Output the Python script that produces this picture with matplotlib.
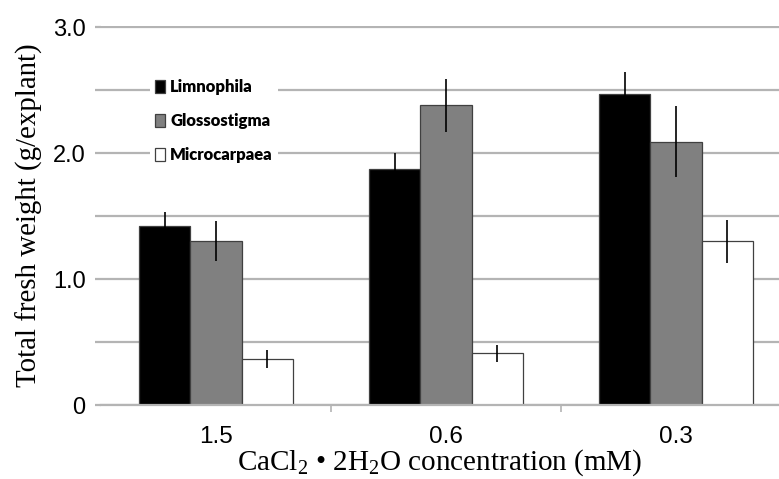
import matplotlib
matplotlib.use("Agg")
import matplotlib.pyplot as plt
import numpy as np
from matplotlib.ticker import FixedLocator

plt.rcParams["mathtext.fontset"] = "custom"
plt.rcParams["mathtext.rm"] = "Liberation Serif"
plt.rcParams["mathtext.it"] = "Liberation Serif"
plt.rcParams["mathtext.default"] = "regular"

categories = ["1.5", "0.6", "0.3"]
series = ["Limnophila", "Glossostigma", "Microcarpaea"]
limnophila = [1.42, 1.87, 2.47]
limnophila_err = [0.11, 0.13, 0.17]
glossostigma = [1.30, 2.38, 2.09]
glossostigma_err = [0.16, 0.21, 0.28]
microcarpaea = [0.365, 0.41, 1.30]
microcarpaea_err = [0.07, 0.065, 0.17]
yticks = [0, 0.5, 1.0, 1.5, 2.0, 2.5, 3.0]
ytick_labels = ["0", "", "1.0", "", "2.0", "", "3.0"]

values = [limnophila, glossostigma, microcarpaea]
errors = [limnophila_err, glossostigma_err, microcarpaea_err]
colors = ["#000000", "#808080", "#ffffff"]

fig = plt.figure(figsize=(7.79, 4.79), dpi=100)
ax = fig.add_axes([101/779, (479-405)/479, 678/779, 379/479])

x = np.arange(len(categories))
w = 0.222
grid_c = "#b4b4b4"
for i, (vals, errs, c) in enumerate(zip(values, errors, colors)):
    ax.bar(x + (i - 1) * w, vals, width=w, color=c, edgecolor="#404040",
           linewidth=0.9, label=series[i], zorder=2)
    ax.errorbar(x + (i - 1) * w, vals, yerr=errs, fmt="none", ecolor="black",
                elinewidth=1.2, capsize=0, zorder=3)

ax.set_xlim(-0.5, -0.5 + 678/230)
ax.set_ylim(0, 3.008)
ax.set_yticks(yticks)
ax.set_yticklabels(ytick_labels, fontsize=17, family="Liberation Sans")
ax.grid(axis="y", color=grid_c, linewidth=1.6, zorder=0)
ax.set_axisbelow(True)

ax.set_xticks(x)
ax.set_xticklabels(categories, fontsize=17.5, family="Liberation Sans")
ax.xaxis.set_minor_locator(FixedLocator([0.5, 1.5]))
ax.tick_params(axis="x", which="major", length=0, pad=15)
ax.tick_params(axis="x", which="minor", length=5, color=grid_c, width=1.2)
ax.tick_params(axis="y", length=4, color=grid_c, width=1.6, pad=7)

for s in ["top", "right", "left"]:
    ax.spines[s].set_visible(False)
ax.spines["bottom"].set_color(grid_c)
ax.spines["bottom"].set_linewidth(1.6)

ax.set_ylabel("Total fresh weight (g/explant)", fontsize=20.8,
              family="Liberation Serif", labelpad=7)
ax.set_xlabel("CaCl$_2$ \u2022 2H$_2$O concentration (mM)", fontsize=21,
              family="Liberation Serif", labelpad=0)

leg = ax.legend(loc="upper left", bbox_to_anchor=(0.06, 0.895), frameon=True,
                fancybox=False, framealpha=1, edgecolor="white",
                handlelength=0.62, handleheight=0.85, handletextpad=0.3,
                labelspacing=1.08, borderpad=0.3,
                prop={"family": "Lato", "weight": "heavy", "size": 12})
leg.get_frame().set_linewidth(0)

fig.savefig("out.png", dpi=100)
